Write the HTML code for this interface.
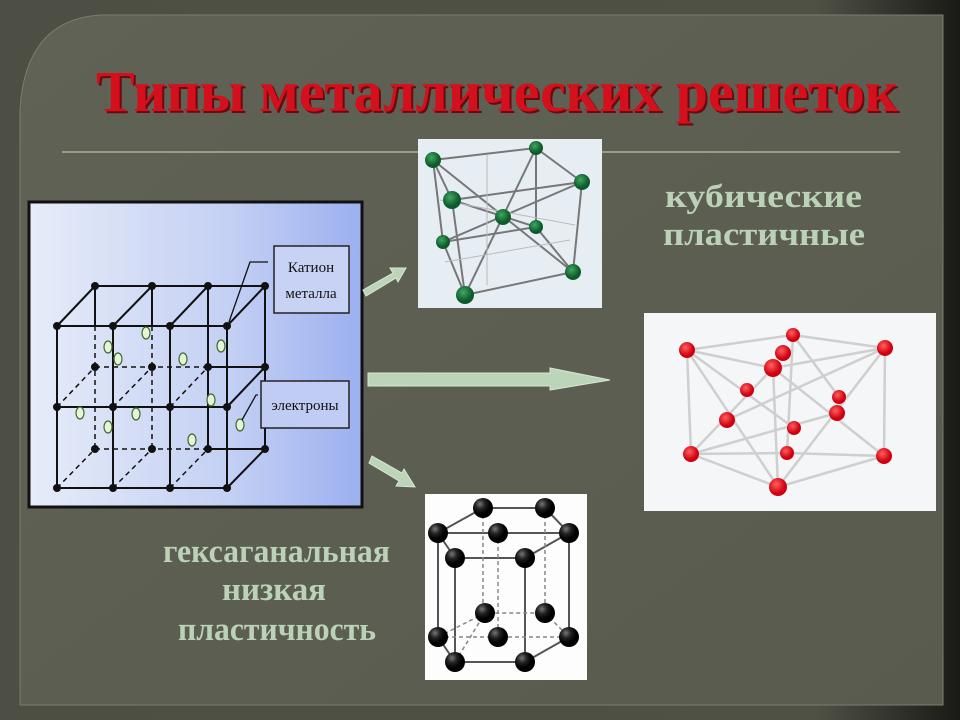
<!DOCTYPE html>
<html><head><meta charset="utf-8"><style>html,body{margin:0;padding:0;background:#3c3d35}svg{display:block}</style></head>
<body>
<svg width="960" height="720" viewBox="0 0 960 720" xmlns="http://www.w3.org/2000/svg">
<defs>
<linearGradient id="bg" x1="0" y1="0" x2="1" y2="0">
<stop offset="0" stop-color="#4d4f45"/><stop offset="0.85" stop-color="#4f5146"/><stop offset="1" stop-color="#1a1a16"/></linearGradient>
<linearGradient id="panel" x1="0" y1="0" x2="1" y2="1">
<stop offset="0" stop-color="#5f6255"/><stop offset="1" stop-color="#5a5b4f"/></linearGradient>
<linearGradient id="blue" x1="0" y1="0" x2="1" y2="0">
<stop offset="0" stop-color="#e6ecf8"/><stop offset="0.6" stop-color="#c4d0f4"/><stop offset="1" stop-color="#9cb0f0"/></linearGradient>
<radialGradient id="g" cx="0.4" cy="0.35"><stop offset="0" stop-color="#3fa860"/><stop offset="1" stop-color="#0e5a2c"/></radialGradient>
<radialGradient id="r" cx="0.4" cy="0.35"><stop offset="0" stop-color="#ff6060"/><stop offset="1" stop-color="#d00010"/></radialGradient>
<radialGradient id="k" cx="0.35" cy="0.3"><stop offset="0" stop-color="#777"/><stop offset="0.5" stop-color="#222"/><stop offset="1" stop-color="#000"/></radialGradient>
</defs>
<rect width="960" height="720" fill="url(#bg)"/>
<path d="M100 15 H943 V705 H20 V110 Q25 20 100 15 Z" fill="url(#panel)" stroke="#7a7d6e" stroke-width="1"/>
<line x1="62" y1="152" x2="900" y2="152" stroke="#9a9c8a" stroke-width="2"/>
<text x="98" y="113" textLength="802" lengthAdjust="spacingAndGlyphs" font-family="Liberation Serif, serif" font-weight="bold" font-size="58" fill="#6a0a10">Типы металлических решеток</text>
<text x="96" y="111" textLength="802" lengthAdjust="spacingAndGlyphs" font-family="Liberation Serif, serif" font-weight="bold" font-size="58" fill="#d4101c">Типы металлических решеток</text>

<g font-family="Liberation Serif, serif" font-weight="bold" font-size="33" fill="#bcd2b8">
<text x="665" y="207" textLength="197" lengthAdjust="spacingAndGlyphs">кубические</text>
<text x="663" y="245" textLength="202" lengthAdjust="spacingAndGlyphs">пластичные</text>
<text x="163" y="562" textLength="227" lengthAdjust="spacingAndGlyphs">гексаганальная</text>
<text x="222" y="600" textLength="104" lengthAdjust="spacingAndGlyphs">низкая</text>
<text x="178" y="640" textLength="198" lengthAdjust="spacingAndGlyphs">пластичность</text>
</g>

<!-- left image -->
<rect x="29" y="202" width="333" height="305" fill="url(#blue)" stroke="#111" stroke-width="3"/>
<g stroke="#111" stroke-width="2" fill="none">
<polyline points="57,326 227,326"/><polyline points="57,407 227,407"/><polyline points="57,488 227,488"/>
<polyline points="95,286 265,286"/><polyline points="208,367 265,367"/><polyline points="208,449 265,449"/>
<line x1="57" y1="326" x2="57" y2="488"/><line x1="113" y1="326" x2="113" y2="488"/><line x1="170" y1="326" x2="170" y2="488"/><line x1="227" y1="326" x2="227" y2="488"/>
<line x1="95" y1="286" x2="95" y2="326"/><line x1="152" y1="286" x2="152" y2="326"/><line x1="208" y1="286" x2="208" y2="449"/><line x1="265" y1="286" x2="265" y2="449"/>
<line x1="57" y1="326" x2="95" y2="286"/><line x1="113" y1="326" x2="152" y2="286"/><line x1="170" y1="326" x2="208" y2="286"/><line x1="227" y1="326" x2="265" y2="286"/>
<line x1="227" y1="407" x2="265" y2="367"/><line x1="227" y1="488" x2="265" y2="449"/>
</g>
<g stroke="#111" stroke-width="1.5" fill="none" stroke-dasharray="5,4">
<line x1="95" y1="326" x2="95" y2="449"/><line x1="152" y1="326" x2="152" y2="449"/>
<line x1="95" y1="367" x2="208" y2="367"/><line x1="95" y1="449" x2="208" y2="449"/>
<line x1="57" y1="407" x2="95" y2="367"/><line x1="57" y1="488" x2="95" y2="449"/>
<line x1="113" y1="407" x2="152" y2="367"/><line x1="113" y1="488" x2="152" y2="449"/>
<line x1="170" y1="407" x2="208" y2="367"/><line x1="170" y1="488" x2="208" y2="449"/>
</g>
<g fill="#111">
<circle cx="57" cy="326" r="4"/><circle cx="113" cy="326" r="4"/><circle cx="170" cy="326" r="4"/><circle cx="227" cy="326" r="4"/>
<circle cx="57" cy="407" r="4"/><circle cx="113" cy="407" r="4"/><circle cx="170" cy="407" r="4"/><circle cx="227" cy="407" r="4"/>
<circle cx="57" cy="488" r="4"/><circle cx="113" cy="488" r="4"/><circle cx="170" cy="488" r="4"/><circle cx="227" cy="488" r="4"/>
<circle cx="95" cy="286" r="4"/><circle cx="152" cy="286" r="4"/><circle cx="208" cy="286" r="4"/><circle cx="265" cy="286" r="4"/>
<circle cx="95" cy="367" r="4"/><circle cx="152" cy="367" r="4"/><circle cx="208" cy="367" r="4"/><circle cx="265" cy="367" r="4"/>
<circle cx="95" cy="449" r="4"/><circle cx="152" cy="449" r="4"/><circle cx="208" cy="449" r="4"/><circle cx="265" cy="449" r="4"/>
</g>
<g fill="#e8f4d8" stroke="#3a6a2a" stroke-width="1.2">
<ellipse cx="146" cy="333" rx="4" ry="6"/><ellipse cx="108" cy="347" rx="4" ry="6"/><ellipse cx="118" cy="359" rx="4" ry="6"/>
<ellipse cx="183" cy="359" rx="4" ry="6"/><ellipse cx="221" cy="346" rx="4" ry="6"/><ellipse cx="211" cy="400" rx="4" ry="6"/>
<ellipse cx="80" cy="413" rx="4" ry="6"/><ellipse cx="136" cy="414" rx="4" ry="6"/><ellipse cx="108" cy="427" rx="4" ry="6"/>
<ellipse cx="192" cy="440" rx="4" ry="6"/><ellipse cx="240" cy="425" rx="4" ry="6"/>
</g>
<g stroke="#111" stroke-width="1.3" fill="none">
<polyline points="229,322 250,262 268,262"/><polyline points="242,420 256,395 258,395"/>
</g>
<rect x="274" y="246" width="75" height="67" fill="#c8d2f4" stroke="#222" stroke-width="1.5"/>
<rect x="261" y="381" width="88" height="47" fill="#c0ccf4" stroke="#222" stroke-width="1.5"/>
<g font-family="Liberation Serif, serif" font-size="15" fill="#111" text-anchor="middle">
<text x="311" y="272">Катион</text><text x="311" y="298">металла</text><text x="305" y="410">электроны</text>
</g>

<!-- arrows -->
<g fill="#bcd4b8" stroke="#d8e8d4" stroke-width="1">
<path d="M363 290 L393 273 L390 268 L406 268 L398 282 L396 278 L366 296 Z"/>
<path d="M368 373 H550 V368 L610 380 L550 390 V386 H368 Z"/>
<path d="M372 456 L402 473 L404 469 L415 487 L396 486 L399 481 L369 463 Z"/>
</g>

<!-- green image -->
<rect x="418" y="139" width="184" height="169" fill="#e6eef4"/>
<g stroke="#777" stroke-width="2" fill="none">
<line x1="433" y1="160" x2="536" y2="148"/><line x1="536" y1="148" x2="582" y2="182"/><line x1="433" y1="160" x2="452" y2="200"/><line x1="452" y1="200" x2="582" y2="182"/>
<line x1="433" y1="160" x2="443" y2="242"/><line x1="452" y1="200" x2="465" y2="295"/><line x1="582" y1="182" x2="573" y2="272"/><line x1="536" y1="148" x2="536" y2="227"/>
<line x1="443" y1="242" x2="536" y2="227"/><line x1="443" y1="242" x2="465" y2="295"/><line x1="465" y1="295" x2="573" y2="272"/><line x1="536" y1="227" x2="573" y2="272"/>
<line x1="433" y1="160" x2="573" y2="272"/><line x1="536" y1="148" x2="465" y2="295"/><line x1="582" y1="182" x2="443" y2="242"/><line x1="452" y1="200" x2="536" y2="227"/>
</g>
<g stroke="#bbb" stroke-width="1" fill="none"><line x1="487" y1="155" x2="487" y2="285"/><line x1="440" y1="200" x2="575" y2="225"/><line x1="445" y1="262" x2="570" y2="240"/></g>
<g fill="url(#g)">
<circle cx="433" cy="160" r="8"/><circle cx="536" cy="148" r="7"/><circle cx="582" cy="182" r="8"/><circle cx="452" cy="200" r="9"/>
<circle cx="503" cy="217" r="8"/><circle cx="536" cy="227" r="7"/><circle cx="443" cy="242" r="7"/><circle cx="573" cy="272" r="8"/><circle cx="465" cy="295" r="9"/>
</g>

<!-- red image -->
<rect x="644" y="313" width="292" height="198" fill="#f4f6f8"/>
<g stroke="#cfcfcf" stroke-width="2.5" fill="none">
<line x1="687" y1="350" x2="793" y2="335"/><line x1="793" y1="335" x2="885" y2="348"/><line x1="687" y1="350" x2="773" y2="368"/><line x1="773" y1="368" x2="885" y2="348"/>
<line x1="687" y1="350" x2="691" y2="454"/><line x1="885" y1="348" x2="884" y2="456"/><line x1="773" y1="368" x2="778" y2="487"/><line x1="793" y1="335" x2="787" y2="453"/>
<line x1="691" y1="454" x2="778" y2="487"/><line x1="778" y1="487" x2="884" y2="456"/><line x1="691" y1="454" x2="787" y2="453"/><line x1="787" y1="453" x2="884" y2="456"/>
<line x1="687" y1="350" x2="778" y2="487"/><line x1="885" y1="348" x2="778" y2="487"/><line x1="773" y1="368" x2="691" y2="454"/><line x1="773" y1="368" x2="884" y2="456"/>
<line x1="793" y1="335" x2="839" y2="397"/><line x1="687" y1="350" x2="794" y2="428"/><line x1="691" y1="454" x2="837" y2="413"/><line x1="885" y1="348" x2="727" y2="420"/>
</g>
<g fill="url(#r)">
<circle cx="687" cy="350" r="8"/><circle cx="793" cy="335" r="7"/><circle cx="885" cy="348" r="8"/><circle cx="783" cy="353" r="8"/>
<circle cx="773" cy="368" r="9"/><circle cx="747" cy="390" r="7"/><circle cx="839" cy="397" r="7"/><circle cx="837" cy="413" r="8"/>
<circle cx="727" cy="420" r="8"/><circle cx="794" cy="428" r="7"/><circle cx="691" cy="454" r="8"/><circle cx="787" cy="453" r="7"/>
<circle cx="884" cy="456" r="8"/><circle cx="778" cy="487" r="9"/>
</g>

<!-- black image -->
<rect x="425" y="494" width="162" height="186" fill="#fdfdfd"/>
<g stroke="#555" stroke-width="2" fill="none">
<polygon points="483,508 545,508 569,533 525,558 455,558 438,533"/>
<line x1="438" y1="533" x2="569" y2="533"/>
<polyline points="455,662 525,662 569,637"/><polyline points="438,637 455,662"/>
<line x1="438" y1="533" x2="438" y2="637"/><line x1="455" y1="558" x2="455" y2="662"/><line x1="525" y1="558" x2="525" y2="662"/><line x1="569" y1="533" x2="569" y2="637"/>
</g>
<g stroke="#888" stroke-width="1.5" fill="none" stroke-dasharray="4,3">
<line x1="483" y1="508" x2="483" y2="613"/><line x1="545" y1="508" x2="545" y2="613"/><line x1="498" y1="533" x2="498" y2="637"/>
<polyline points="438,637 485,613 545,613 569,637"/><line x1="438" y1="637" x2="569" y2="637"/><line x1="455" y1="662" x2="485" y2="613"/>
</g>
<g fill="url(#k)">
<circle cx="483" cy="508" r="10"/><circle cx="545" cy="508" r="10"/><circle cx="438" cy="533" r="10"/><circle cx="498" cy="533" r="10"/>
<circle cx="569" cy="533" r="10"/><circle cx="455" cy="558" r="10"/><circle cx="525" cy="558" r="10"/><circle cx="485" cy="613" r="10"/>
<circle cx="545" cy="613" r="10"/><circle cx="438" cy="637" r="10"/><circle cx="498" cy="637" r="10"/><circle cx="569" cy="637" r="10"/>
<circle cx="455" cy="662" r="10"/><circle cx="525" cy="662" r="10"/>
</g>
</svg>
</body></html>
